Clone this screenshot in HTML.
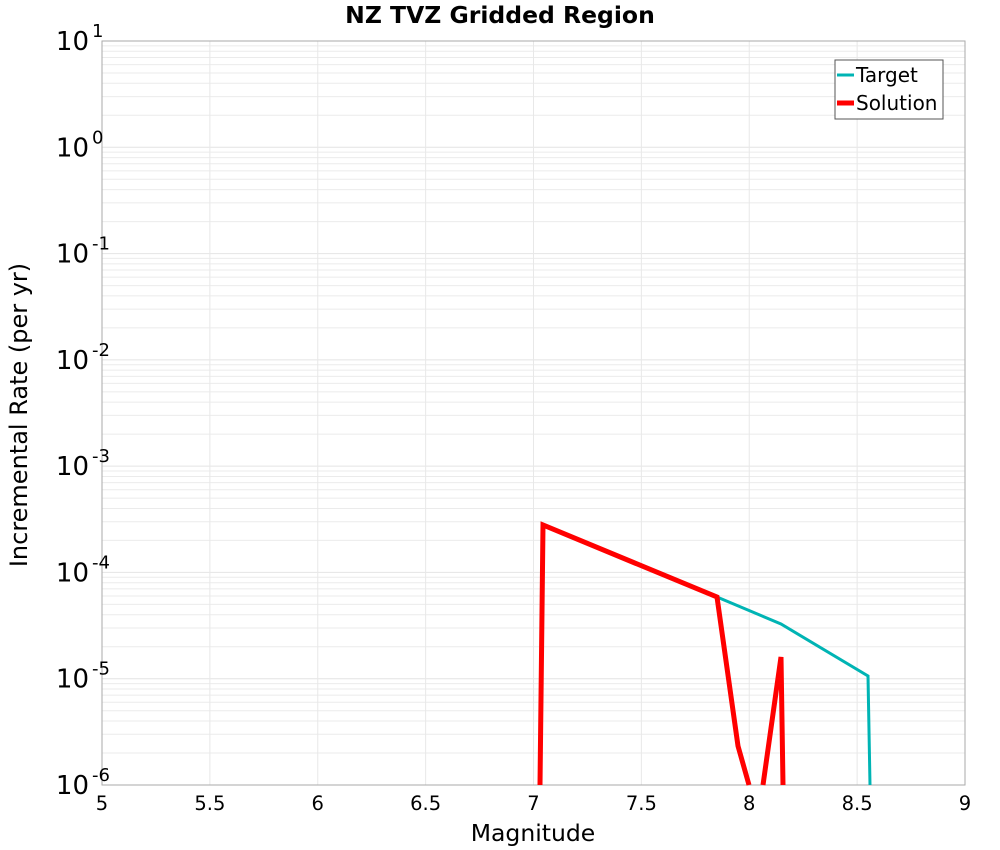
<!DOCTYPE html>
<html><head><meta charset="utf-8"><style>body{margin:0;background:#fff}svg{display:block}text{font-family:"DejaVu Sans","Liberation Sans",sans-serif}</style></head>
<body>
<svg id="s" width="1000" height="850" xmlns="http://www.w3.org/2000/svg">
<g id="grid"></g>
<rect x="102" y="41" width="863" height="744" fill="none" stroke="#aaa" stroke-width="1"/>
<polyline points="717,597 781,624 868,676 870,785" fill="none" stroke="#00b4b4" stroke-width="3"/>
<polyline points="540,785 543,525 717,597 738,746 749,785" fill="none" stroke="#ff0000" stroke-width="5"/>
<polyline points="763,785 781,657 783,785" fill="none" stroke="#ff0000" stroke-width="5"/>
<text x="500" y="23" text-anchor="middle" font-size="23.5" font-weight="bold">NZ TVZ Gridded Region</text>
<text x="533" y="841" text-anchor="middle" font-size="23.5">Magnitude</text>
<text transform="translate(27,415) rotate(-90)" text-anchor="middle" font-size="24">Incremental Rate (per yr)</text>
<g id="labels"></g>
<rect x="835" y="60" width="108" height="59" fill="#fff" stroke="#555" stroke-width="1"/>
<line x1="837" y1="75" x2="854" y2="75" stroke="#00b4b4" stroke-width="3"/>
<line x1="837" y1="103" x2="854" y2="103" stroke="#ff0000" stroke-width="5"/>
<text x="856" y="82" font-size="20">Target</text>
<text x="856" y="110" font-size="20">Solution</text>
</svg>
<script>
(function(){
var g=document.getElementById('grid'),L=document.getElementById('labels'),ns='http://www.w3.org/2000/svg';
function el(p,t,a,txt){var e=document.createElementNS(ns,t);for(var k in a)e.setAttribute(k,a[k]);if(txt!=null)e.textContent=txt;p.appendChild(e);return e;}
var yt=41,bot=785,dec=(bot-yt)/7;
for(var d=0;d<7;d++){for(var m=2;m<10;m++){var y=bot-dec*(d+Math.log10(m));el(g,'line',{x1:102,x2:965,y1:y,y2:y,stroke:'#ebebeb','stroke-width':1});}}
for(var d=1;d<7;d++){var y=bot-dec*d;el(g,'line',{x1:102,x2:965,y1:y,y2:y,stroke:'#e4e4e4','stroke-width':1});}
for(var i=1;i<8;i++){var x=102+i*863/8;el(g,'line',{x1:x,x2:x,y1:yt,y2:bot,stroke:'#e8e8e8','stroke-width':1});}
for(var i=0;i<=8;i++){var x=102+i*863/8;var v=5+i*0.5;el(L,'text',{x:x,y:810,'text-anchor':'middle','font-size':19.5},(v%1==0?String(v):v.toFixed(1)));}
for(var d=0;d<=7;d++){var y=bot-dec*d;var e=-6+d;
el(L,'text',{x:89,y:y+9,'text-anchor':'end','font-size':26},'10');
el(L,'text',{x:92,y:y-4,'text-anchor':'start','font-size':18},''+e);}
})();
</script>
</body></html>
